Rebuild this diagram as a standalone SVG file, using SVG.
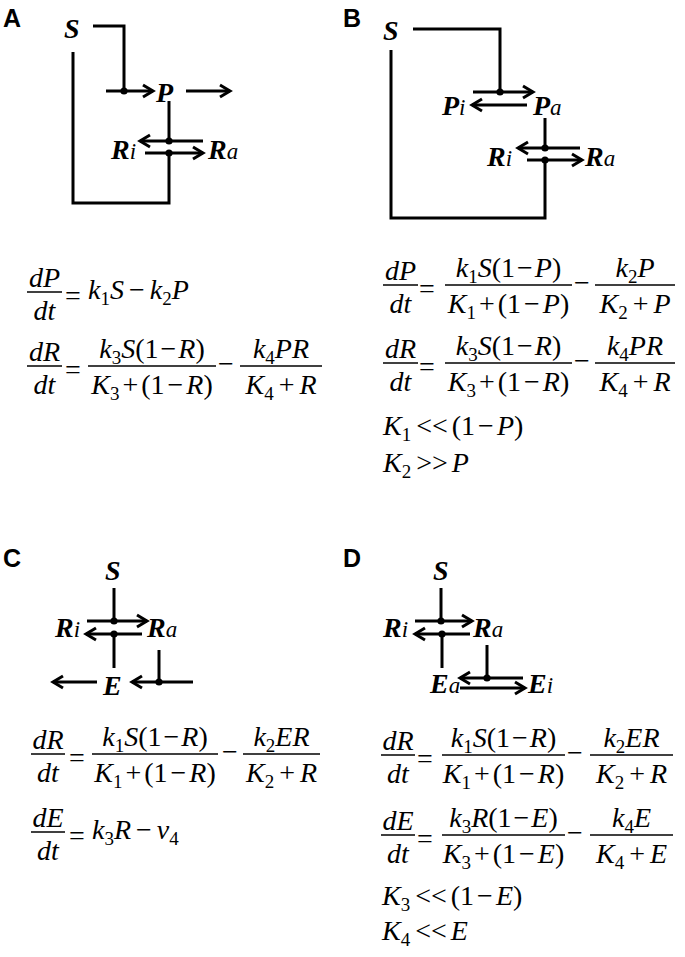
<svg xmlns="http://www.w3.org/2000/svg" width="685" height="957" viewBox="0 0 685 957">
<style>
.lbl{font-family:"Liberation Sans",Arial,sans-serif;font-weight:bold;font-size:25px;fill:#000}
.nd{font-family:"Liberation Serif","Times New Roman",serif;font-weight:bold;font-style:italic;font-size:28px;fill:#000}
.sm{font-weight:normal;font-size:23px}
.m{font-family:"Liberation Serif","Times New Roman",serif;font-size:28px;fill:#000}
.i{font-style:italic}
.s{font-size:19px}
.ln{fill:none;stroke:#000;stroke-width:3}
.ar{fill:none;stroke:#000;stroke-width:3;marker-end:url(#ah)}
.bar{stroke:#000;stroke-width:1.4}
.dot{fill:#000}
</style>
<defs>
<marker id="ah" markerUnits="userSpaceOnUse" markerWidth="18" markerHeight="18" refX="13" refY="9" orient="auto"><path d="M3,3 L13,9 L3,15" fill="none" stroke="#000" stroke-width="3"/></marker>
</defs>
<rect width="685" height="957" fill="#fff"/>

<g id="panel-labels">
<text class="lbl" x="3" y="27">A</text>
<text class="lbl" x="343" y="27">B</text>
<text class="lbl" x="3" y="567">C</text>
<text class="lbl" x="343" y="567">D</text>
</g>

<!-- Panel A nodes -->
<g id="A-S"><text class="nd" x="64" y="38">S</text></g>
<g id="A-P"><text class="nd" x="156" y="102">P</text></g>
<g id="A-Ri"><text class="nd" x="111" y="159">R<tspan class="sm">i</tspan></text></g>
<g id="A-Ra"><text class="nd" x="208" y="159">R<tspan class="sm">a</tspan></text></g>

<!-- Panel B nodes -->
<g id="B-S"><text class="nd" x="383" y="40">S</text></g>
<g id="B-Pi"><text class="nd" x="442" y="115">P<tspan class="sm">i</tspan></text></g>
<g id="B-Pa"><text class="nd" x="533" y="115">P<tspan class="sm">a</tspan></text></g>
<g id="B-Ri"><text class="nd" x="487" y="166">R<tspan class="sm">i</tspan></text></g>
<g id="B-Ra"><text class="nd" x="585" y="166">R<tspan class="sm">a</tspan></text></g>

<!-- Panel C nodes -->
<g id="C-S"><text class="nd" x="105" y="580">S</text></g>
<g id="C-Ri"><text class="nd" x="55" y="637">R<tspan class="sm">i</tspan></text></g>
<g id="C-Ra"><text class="nd" x="147" y="637">R<tspan class="sm">a</tspan></text></g>
<g id="C-E"><text class="nd" x="103" y="695">E</text></g>

<!-- Panel D nodes -->
<g id="D-S"><text class="nd" x="433" y="580">S</text></g>
<g id="D-Ri"><text class="nd" x="383" y="637">R<tspan class="sm">i</tspan></text></g>
<g id="D-Ra"><text class="nd" x="473" y="637">R<tspan class="sm">a</tspan></text></g>
<g id="D-Ea"><text class="nd" x="430" y="693">E<tspan class="sm">a</tspan></text></g>
<g id="D-Ei"><text class="nd" x="528" y="693">E<tspan class="sm">i</tspan></text></g>

<g id="connectors">
<!-- A -->
<path class="ln" d="M93,26 H124 V91"/>
<path class="ar" d="M106,91 H153"/>
<path class="ar" d="M186,91 H230"/>
<path class="ln" d="M169,101 V141"/>
<path class="ar" d="M203,141 H140"/>
<path class="ar" d="M145,153 H203"/>
<path class="ln" d="M169,153 V203 H73 V52"/>
<circle class="dot" cx="124" cy="91" r="3.6"/>
<circle class="dot" cx="169" cy="141" r="3.6"/>
<circle class="dot" cx="169" cy="153" r="3.6"/>
<!-- B -->
<path class="ln" d="M413,29 H500 V92"/>
<path class="ar" d="M473,92 H533"/>
<path class="ar" d="M527,105 H472"/>
<path class="ln" d="M545,118 V148"/>
<path class="ar" d="M580,148 H518"/>
<path class="ar" d="M527,160 H582"/>
<path class="ln" d="M545,160 V218 H391 V50"/>
<circle class="dot" cx="500" cy="92" r="3.6"/>
<circle class="dot" cx="545" cy="148" r="3.6"/>
<circle class="dot" cx="545" cy="160" r="3.6"/>
<!-- C -->
<path class="ln" d="M114,588 V621"/>
<path class="ar" d="M87,621 H147"/>
<path class="ar" d="M142,634 H86"/>
<path class="ln" d="M114,634 V668"/>
<path class="ar" d="M97,682 H53"/>
<path class="ar" d="M193,682 H132"/>
<path class="ln" d="M159,650 V682"/>
<circle class="dot" cx="114" cy="621" r="3.6"/>
<circle class="dot" cx="114" cy="634" r="3.6"/>
<circle class="dot" cx="159" cy="682" r="3.6"/>
<!-- D -->
<path class="ln" d="M441,588 V621"/>
<path class="ar" d="M415,621 H472"/>
<path class="ar" d="M470,634 H415"/>
<path class="ln" d="M442,634 V668"/>
<path class="ln" d="M487,645 V678"/>
<path class="ar" d="M523,678 H460"/>
<path class="ar" d="M460,688 H525"/>
<circle class="dot" cx="441" cy="621" r="3.6"/>
<circle class="dot" cx="442" cy="634" r="3.6"/>
<circle class="dot" cx="487" cy="678" r="3.6"/>
</g>

<!-- Equations A -->
<g id="eqA">
<line class="bar" x1="27" y1="292" x2="62" y2="292"/>
<text class="m i" x="44.5" y="287" text-anchor="middle">dP</text>
<text class="m i" x="44.5" y="320" text-anchor="middle">dt</text>
<text class="m" x="65" y="305">=</text>
<text class="m" x="88" y="299"><tspan class="i">k</tspan><tspan class="s" dy="6">1</tspan><tspan class="i" dy="-6">S</tspan><tspan dx="5">−</tspan><tspan class="i" dx="5">k</tspan><tspan class="s" dy="6">2</tspan><tspan class="i" dy="-6">P</tspan></text>

<line class="bar" x1="27" y1="366" x2="62" y2="366"/>
<text class="m i" x="44.5" y="361" text-anchor="middle">dR</text>
<text class="m i" x="44.5" y="394" text-anchor="middle">dt</text>
<text class="m" x="65" y="379">=</text>
<line class="bar" x1="88" y1="366" x2="216" y2="366"/>
<text class="m" x="152" y="358" text-anchor="middle"><tspan class="i">k</tspan><tspan class="s" dy="6">3</tspan><tspan class="i" dy="-6">S</tspan><tspan>(1</tspan><tspan dx="2">−</tspan><tspan class="i" dx="2">R</tspan>)</text>
<text class="m" x="152" y="394" text-anchor="middle"><tspan class="i">K</tspan><tspan class="s" dy="6">3</tspan><tspan dy="-6" dx="3">+</tspan><tspan dx="3">(1</tspan><tspan dx="3">−</tspan><tspan class="i" dx="3">R</tspan>)</text>
<text class="m" x="218" y="373">−</text>
<line class="bar" x1="240" y1="366" x2="322" y2="366"/>
<text class="m" x="281" y="358" text-anchor="middle"><tspan class="i">k</tspan><tspan class="s" dy="6">4</tspan><tspan class="i" dy="-6">PR</tspan></text>
<text class="m" x="281" y="394" text-anchor="middle"><tspan class="i">K</tspan><tspan class="s" dy="6">4</tspan><tspan dy="-6" dx="5">+</tspan><tspan class="i" dx="5">R</tspan></text>
</g>

<!-- Equations B -->
<g id="eqB">
<line class="bar" x1="383" y1="285" x2="418" y2="285"/>
<text class="m i" x="400.5" y="280" text-anchor="middle">dP</text>
<text class="m i" x="400.5" y="313" text-anchor="middle">dt</text>
<text class="m" x="419" y="298">=</text>
<line class="bar" x1="445" y1="285" x2="572" y2="285"/>
<text class="m" x="508.5" y="277" text-anchor="middle"><tspan class="i">k</tspan><tspan class="s" dy="6">1</tspan><tspan class="i" dy="-6">S</tspan><tspan>(1</tspan><tspan dx="2">−</tspan><tspan class="i" dx="2">P</tspan>)</text>
<text class="m" x="508.5" y="313" text-anchor="middle"><tspan class="i">K</tspan><tspan class="s" dy="6">1</tspan><tspan dy="-6" dx="3">+</tspan><tspan dx="3">(1</tspan><tspan dx="3">−</tspan><tspan class="i" dx="3">P</tspan>)</text>
<text class="m" x="574" y="292">−</text>
<line class="bar" x1="595" y1="285" x2="675" y2="285"/>
<text class="m" x="635" y="277" text-anchor="middle"><tspan class="i">k</tspan><tspan class="s" dy="6">2</tspan><tspan class="i" dy="-6">P</tspan></text>
<text class="m" x="635" y="313" text-anchor="middle"><tspan class="i">K</tspan><tspan class="s" dy="6">2</tspan><tspan dy="-6" dx="5">+</tspan><tspan class="i" dx="5">P</tspan></text>

<line class="bar" x1="383" y1="363" x2="418" y2="363"/>
<text class="m i" x="400.5" y="358" text-anchor="middle">dR</text>
<text class="m i" x="400.5" y="391" text-anchor="middle">dt</text>
<text class="m" x="419" y="376">=</text>
<line class="bar" x1="445" y1="363" x2="572" y2="363"/>
<text class="m" x="508.5" y="355" text-anchor="middle"><tspan class="i">k</tspan><tspan class="s" dy="6">3</tspan><tspan class="i" dy="-6">S</tspan><tspan>(1</tspan><tspan dx="2">−</tspan><tspan class="i" dx="2">R</tspan>)</text>
<text class="m" x="508.5" y="391" text-anchor="middle"><tspan class="i">K</tspan><tspan class="s" dy="6">3</tspan><tspan dy="-6" dx="3">+</tspan><tspan dx="3">(1</tspan><tspan dx="3">−</tspan><tspan class="i" dx="3">R</tspan>)</text>
<text class="m" x="574" y="370">−</text>
<line class="bar" x1="595" y1="363" x2="675" y2="363"/>
<text class="m" x="635" y="355" text-anchor="middle"><tspan class="i">k</tspan><tspan class="s" dy="6">4</tspan><tspan class="i" dy="-6">PR</tspan></text>
<text class="m" x="635" y="391" text-anchor="middle"><tspan class="i">K</tspan><tspan class="s" dy="6">4</tspan><tspan dy="-6" dx="5">+</tspan><tspan class="i" dx="5">R</tspan></text>

<text class="m" x="383" y="435"><tspan class="i">K</tspan><tspan class="s" dy="6">1</tspan><tspan dy="-6" dx="5">&lt;&lt;</tspan><tspan dx="4">(1</tspan><tspan dx="3">−</tspan><tspan class="i" dx="3">P</tspan>)</text>
<text class="m" x="383" y="472"><tspan class="i">K</tspan><tspan class="s" dy="6">2</tspan><tspan dy="-6" dx="5">&gt;&gt;</tspan><tspan class="i" dx="4">P</tspan></text>
</g>

<!-- Equations C -->
<g id="eqC">
<line class="bar" x1="31" y1="754" x2="65" y2="754"/>
<text class="m i" x="48" y="749" text-anchor="middle">dR</text>
<text class="m i" x="48" y="782" text-anchor="middle">dt</text>
<text class="m" x="69" y="767">=</text>
<line class="bar" x1="92" y1="754" x2="218" y2="754"/>
<text class="m" x="155" y="746" text-anchor="middle"><tspan class="i">k</tspan><tspan class="s" dy="6">1</tspan><tspan class="i" dy="-6">S</tspan><tspan>(1</tspan><tspan dx="2">−</tspan><tspan class="i" dx="2">R</tspan>)</text>
<text class="m" x="155" y="782" text-anchor="middle"><tspan class="i">K</tspan><tspan class="s" dy="6">1</tspan><tspan dy="-6" dx="3">+</tspan><tspan dx="3">(1</tspan><tspan dx="3">−</tspan><tspan class="i" dx="3">R</tspan>)</text>
<text class="m" x="222" y="761">−</text>
<line class="bar" x1="243" y1="754" x2="320" y2="754"/>
<text class="m" x="281.5" y="746" text-anchor="middle"><tspan class="i">k</tspan><tspan class="s" dy="6">2</tspan><tspan class="i" dy="-6">ER</tspan></text>
<text class="m" x="281.5" y="782" text-anchor="middle"><tspan class="i">K</tspan><tspan class="s" dy="6">2</tspan><tspan dy="-6" dx="5">+</tspan><tspan class="i" dx="5">R</tspan></text>

<line class="bar" x1="31" y1="832" x2="65" y2="832"/>
<text class="m i" x="48" y="827" text-anchor="middle">dE</text>
<text class="m i" x="48" y="860" text-anchor="middle">dt</text>
<text class="m" x="69" y="845">=</text>
<text class="m" x="92" y="839"><tspan class="i">k</tspan><tspan class="s" dy="6">3</tspan><tspan class="i" dy="-6">R</tspan><tspan dx="5">−</tspan><tspan class="i" dx="5">v</tspan><tspan class="s" dy="6">4</tspan></text>
</g>

<!-- Equations D -->
<g id="eqD">
<line class="bar" x1="381" y1="755" x2="415" y2="755"/>
<text class="m i" x="398" y="750" text-anchor="middle">dR</text>
<text class="m i" x="398" y="783" text-anchor="middle">dt</text>
<text class="m" x="417" y="768">=</text>
<line class="bar" x1="442" y1="755" x2="565" y2="755"/>
<text class="m" x="503.5" y="747" text-anchor="middle"><tspan class="i">k</tspan><tspan class="s" dy="6">1</tspan><tspan class="i" dy="-6">S</tspan><tspan>(1</tspan><tspan dx="2">−</tspan><tspan class="i" dx="2">R</tspan>)</text>
<text class="m" x="503.5" y="783" text-anchor="middle"><tspan class="i">K</tspan><tspan class="s" dy="6">1</tspan><tspan dy="-6" dx="3">+</tspan><tspan dx="3">(1</tspan><tspan dx="3">−</tspan><tspan class="i" dx="3">R</tspan>)</text>
<text class="m" x="567" y="762">−</text>
<line class="bar" x1="590" y1="755" x2="673" y2="755"/>
<text class="m" x="631.5" y="747" text-anchor="middle"><tspan class="i">k</tspan><tspan class="s" dy="6">2</tspan><tspan class="i" dy="-6">ER</tspan></text>
<text class="m" x="631.5" y="783" text-anchor="middle"><tspan class="i">K</tspan><tspan class="s" dy="6">2</tspan><tspan dy="-6" dx="5">+</tspan><tspan class="i" dx="5">R</tspan></text>

<line class="bar" x1="381" y1="835" x2="415" y2="835"/>
<text class="m i" x="398" y="830" text-anchor="middle">dE</text>
<text class="m i" x="398" y="863" text-anchor="middle">dt</text>
<text class="m" x="417" y="848">=</text>
<line class="bar" x1="442" y1="835" x2="565" y2="835"/>
<text class="m" x="503.5" y="827" text-anchor="middle"><tspan class="i">k</tspan><tspan class="s" dy="6">3</tspan><tspan class="i" dy="-6">R</tspan><tspan>(1</tspan><tspan dx="2">−</tspan><tspan class="i" dx="2">E</tspan>)</text>
<text class="m" x="503.5" y="863" text-anchor="middle"><tspan class="i">K</tspan><tspan class="s" dy="6">3</tspan><tspan dy="-6" dx="3">+</tspan><tspan dx="3">(1</tspan><tspan dx="3">−</tspan><tspan class="i" dx="3">E</tspan>)</text>
<text class="m" x="567" y="842">−</text>
<line class="bar" x1="590" y1="835" x2="673" y2="835"/>
<text class="m" x="631.5" y="827" text-anchor="middle"><tspan class="i">k</tspan><tspan class="s" dy="6">4</tspan><tspan class="i" dy="-6">E</tspan></text>
<text class="m" x="631.5" y="863" text-anchor="middle"><tspan class="i">K</tspan><tspan class="s" dy="6">4</tspan><tspan dy="-6" dx="5">+</tspan><tspan class="i" dx="5">E</tspan></text>

<text class="m" x="382" y="905"><tspan class="i">K</tspan><tspan class="s" dy="6">3</tspan><tspan dy="-6" dx="5">&lt;&lt;</tspan><tspan dx="4">(1</tspan><tspan dx="3">−</tspan><tspan class="i" dx="3">E</tspan>)</text>
<text class="m" x="382" y="940"><tspan class="i">K</tspan><tspan class="s" dy="6">4</tspan><tspan dy="-6" dx="5">&lt;&lt;</tspan><tspan class="i" dx="4">E</tspan></text>
</g>
</svg>
